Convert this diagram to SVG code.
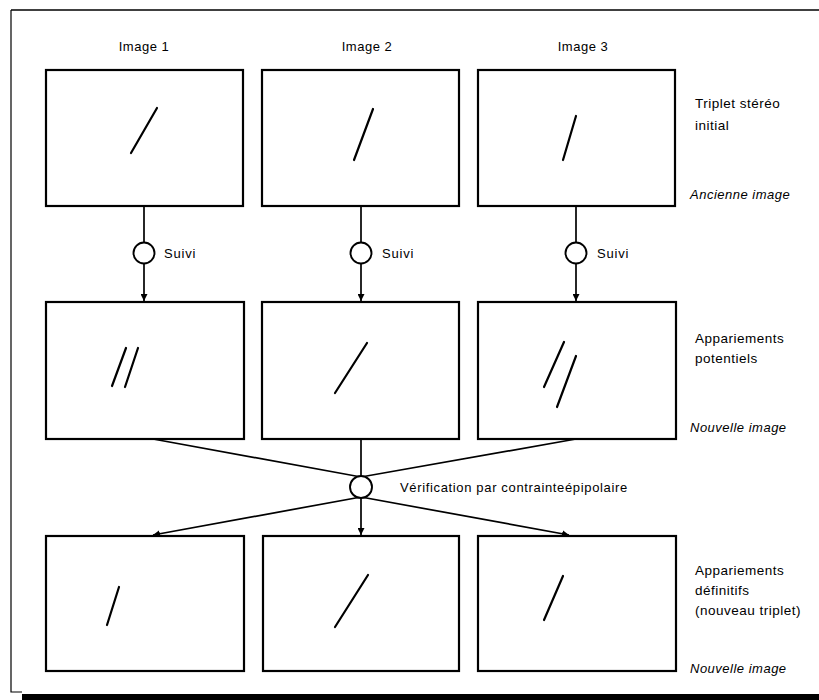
<svg xmlns="http://www.w3.org/2000/svg" width="819" height="700" viewBox="0 0 819 700">
<defs>
<style>
.box{fill:none;stroke:#000;stroke-width:2.2}
.ln{stroke:#000;stroke-width:1.7;fill:none}
.sl{stroke:#000;stroke-width:2.2;stroke-linecap:round}
.c{fill:#fff;stroke:#000;stroke-width:1.9}
text{font-family:"Liberation Sans",Arial,sans-serif;font-size:13px;fill:#000}
.s{letter-spacing:0.8px}
.v{letter-spacing:0.65px}
.r{font-size:13.5px;letter-spacing:0.5px}
.it{font-style:italic;font-size:13px;letter-spacing:0.5px}
.h{text-anchor:middle;font-size:13px;letter-spacing:0.5px}
</style>
<marker id="ah" viewBox="0 0 10 10" refX="10" refY="5" markerWidth="7" markerHeight="7" markerUnits="userSpaceOnUse" orient="auto">
<path d="M0,0 L10,5 L0,10 z" fill="#000"/>
</marker>
</defs>
<g id="frame">
<path d="M11,10 H819" stroke="#000" stroke-width="1.5" fill="none"/>
<path d="M11,10 V692 H22" stroke="#000" stroke-width="1.2" fill="none"/>
<rect x="22" y="694" width="797" height="6" fill="#000"/>
</g>
<g id="headers">
<text class="h" x="144" y="51">Image 1</text>
<text class="h" x="367" y="51">Image 2</text>
<text class="h" x="583" y="51">Image 3</text>
</g>
<g id="row1">
<g id="b11"><rect class="box" x="46" y="70" width="197" height="136"/><line class="sl" x1="131" y1="153" x2="157" y2="108"/></g>
<g id="b12"><rect class="box" x="262" y="70" width="197" height="136"/><line class="sl" x1="354" y1="160" x2="373" y2="109"/></g>
<g id="b13"><rect class="box" x="478" y="70" width="197" height="136"/><line class="sl" x1="563" y1="160" x2="576" y2="116"/></g>
</g>
<g id="row2">
<g id="b21"><rect class="box" x="46" y="302" width="198" height="137"/><line class="sl" x1="112" y1="386" x2="126" y2="348"/><line class="sl" x1="125" y1="387" x2="138" y2="348"/></g>
<g id="b22"><rect class="box" x="262" y="302" width="197" height="137"/><line class="sl" x1="335" y1="393" x2="367" y2="343"/></g>
<g id="b23"><rect class="box" x="478" y="302" width="198" height="137"/><line class="sl" x1="544" y1="387" x2="564" y2="342"/><line class="sl" x1="557" y1="407" x2="576" y2="356"/></g>
</g>
<g id="row3">
<g id="b31"><rect class="box" x="46" y="536" width="198" height="135"/><line class="sl" x1="107" y1="625" x2="119" y2="587"/></g>
<g id="b32"><rect class="box" x="263" y="536" width="196" height="135"/><line class="sl" x1="335" y1="627" x2="368" y2="575"/></g>
<g id="b33"><rect class="box" x="478" y="536" width="198" height="135"/><line class="sl" x1="544" y1="620" x2="563" y2="576"/></g>
</g>
<g id="connectors">
<line class="ln" x1="144" y1="206" x2="144" y2="301" marker-end="url(#ah)"/>
<line class="ln" x1="361" y1="206" x2="361" y2="301" marker-end="url(#ah)"/>
<line class="ln" x1="576" y1="206" x2="576" y2="301" marker-end="url(#ah)"/>
<polyline class="ln" points="153,439 361,477 576,439"/>
<line class="ln" x1="361" y1="439" x2="361" y2="487"/>
<line class="ln" x1="361" y1="497" x2="153" y2="535" marker-end="url(#ah)"/>
<line class="ln" x1="361" y1="497" x2="361" y2="535" marker-end="url(#ah)"/>
<line class="ln" x1="361" y1="497" x2="569" y2="535" marker-end="url(#ah)"/>
</g>
<g id="suivi1"><circle class="c" cx="144" cy="253" r="10.5"/><text class="s" x="164" y="258">Suivi</text></g>
<g id="suivi2"><circle class="c" cx="361" cy="253" r="10.5"/><text class="s" x="382" y="258">Suivi</text></g>
<g id="suivi3"><circle class="c" cx="576" cy="253" r="10.5"/><text class="s" x="597" y="258">Suivi</text></g>
<g id="verif"><circle class="c" cx="361" cy="487" r="11"/><text class="v" x="400" y="492">Vérification par contrainteépipolaire</text></g>
<g id="labels">
<text class="r" x="695" y="108">Triplet stéréo</text>
<text class="r" x="695" y="130">initial</text>
<text class="it" x="690" y="199">Ancienne image</text>
<text class="r" x="695" y="343">Appariements</text>
<text class="r" x="695" y="363">potentiels</text>
<text class="it" x="690" y="432">Nouvelle image</text>
<text class="r" x="695" y="575">Appariements</text>
<text class="r" x="695" y="595">définitifs</text>
<text class="r" x="695" y="615">(nouveau triplet)</text>
<text class="it" x="690" y="673">Nouvelle image</text>
</g>
</svg>
